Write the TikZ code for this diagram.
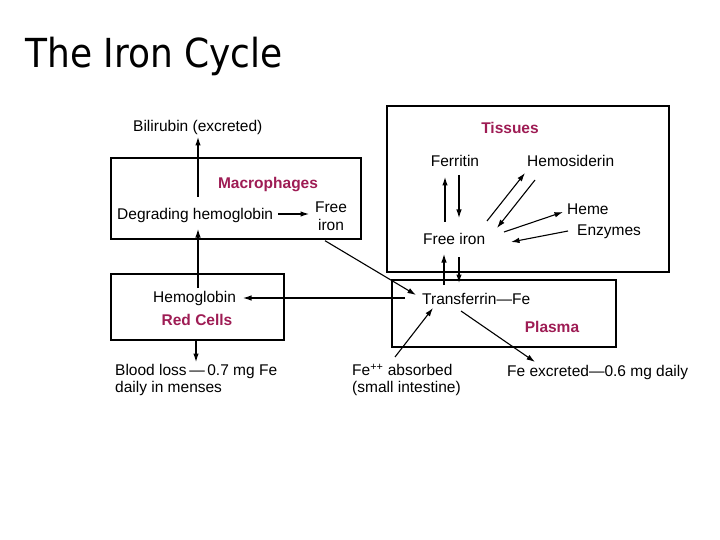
\documentclass[tikz,border=0pt]{standalone}
\usepackage{fontspec}
\setmainfont{Liberation Sans}
\newfontfamily\titlefont[FakeStretch=0.9]{DejaVu Sans}
\usetikzlibrary{arrows.meta}
\definecolor{redtext}{RGB}{158,28,84}
\begin{document}
\begin{tikzpicture}[x=1pt,y=-1pt,
  txt/.style={inner sep=0pt,font=\fontsize{15.5}{18}\selectfont},
  lbl/.style={txt,anchor=base west},
  ctr/.style={txt,anchor=base},
  comp/.style={txt,anchor=base,font=\fontsize{15.5}{18}\selectfont\bfseries,text=redtext},
  box/.style={draw,line width=1.7pt,inner sep=0pt,anchor=north west},
  arr/.style={line width=1.1pt,-{Latex[length=8.5pt,width=5.5pt]}}]
\useasboundingbox (0,0) rectangle (720,540);
\node[anchor=base west,inner sep=0pt,font=\titlefont\fontsize{40}{44}\selectfont] (title) at (25,68) {The Iron Cycle};
% boxes
\node[box,minimum width=250pt,minimum height=81pt] (boxM) at (110,157) {};
\node[box,minimum width=282pt,minimum height=166pt] (boxT) at (386,105) {};
\node[box,minimum width=173pt,minimum height=66pt] (boxR) at (110,273) {};
\node[box,minimum width=224pt,minimum height=67pt] (boxP) at (391,279) {};
% texts
\node[lbl] (bili) at (133,131.5) {Bilirubin (excreted)};
\node[comp] (macro) at (268,188.5) {Macrophages};
\node[lbl] (deg) at (117,219.5) {Degrading hemoglobin};
\node[ctr] (free1) at (331,212) {Free};
\node[ctr] (free2) at (331,230.5) {iron};
\node[lbl] (hemo) at (153,302.5) {Hemoglobin};
\node[comp] (red) at (197,325.5) {Red Cells};
\node[lbl] (blood1) at (115,375.5) {Blood loss\,---\,0.7 mg Fe};
\node[lbl] (blood2) at (115,392.5) {daily in menses};
\node[lbl] (transf) at (422,304.5) {Transferrin---Fe};
\node[comp] (plasma) at (552,332.5) {Plasma};
\node[lbl] (fepp1) at (352,375.5) {Fe\textsuperscript{++} absorbed};
\node[lbl] (fepp2) at (352,392.5) {(small intestine)};
\node[lbl] (feex) at (507,376.5) {Fe excreted---0.6 mg daily};
\node[comp] (tissues) at (510,133.5) {Tissues};
\node[ctr] (ferr) at (455,166.5) {Ferritin};
\node[lbl] (hemos) at (527,166.5) {Hemosiderin};
\node[lbl] (freeT) at (423,244.5) {Free iron};
\node[lbl] (heme) at (567,214.5) {Heme};
\node[lbl] (enz) at (577,235.5) {Enzymes};
% connectors
\draw[arr] ([shift={(81,-22.5)}]deg.base west) -- ([shift={(65,5.5)}]bili.base west);
\draw[arr] ([shift={(161,-5.5)}]deg.base west) -- ([shift={(-22,2)}]free1.base);
\draw[arr] ([shift={(45,-14.5)}]hemo.base west) -- ([shift={(81,9.5)}]deg.base west);
\draw[arr] ([shift={(-17,-6.5)}]transf.base west) -- ([shift={(90,-4.5)}]hemo.base west);
\draw[arr] ([shift={(86,0)}]boxR.south west) -- ([shift={(81,-13.5)}]blood1.base west);
\draw[arr] ([shift={(215,1)}]boxM.south west) -- ([shift={(-6,-9.5)}]transf.base west);
\draw[arr] ([shift={(22,-19.5)}]transf.base west) -- ([shift={(21,9.5)}]freeT.base west);
\draw[arr] ([shift={(36,12.5)}]freeT.base west) -- ([shift={(37,-21.5)}]transf.base west);
\draw[arr] ([shift={(43,-18.5)}]fepp1.base west) -- ([shift={(11,3.5)}]transf.base west);
\draw[arr] ([shift={(39,6.5)}]transf.base west) -- ([shift={(28,-14.5)}]feex.base west);
\draw[arr] ([shift={(22,-22.5)}]freeT.base west) -- ([shift={(-10,10.5)}]ferr.base);
\draw[arr] ([shift={(4,8.5)}]ferr.base) -- ([shift={(36,-26.5)}]freeT.base west);
\draw[arr] ([shift={(64,-23.5)}]freeT.base west) -- ([shift={(-2,6.5)}]hemos.base west);
\draw[arr] ([shift={(8,13.5)}]hemos.base west) -- ([shift={(74,-16.5)}]freeT.base west);
\draw[arr] ([shift={(81,-12.5)}]freeT.base west) -- ([shift={(-4,-2.5)}]heme.base west);
\draw[arr] ([shift={(-9,-4.5)}]enz.base west) -- ([shift={(88,-2.5)}]freeT.base west);
\end{tikzpicture}
\end{document}
